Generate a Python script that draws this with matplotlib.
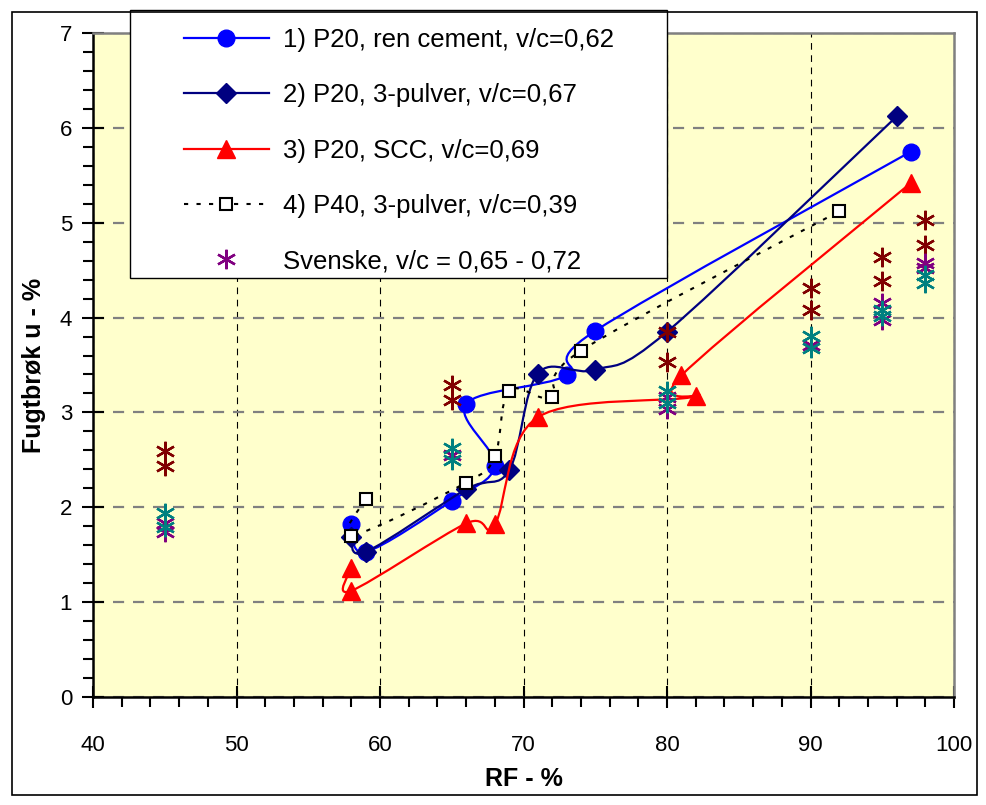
import numpy as np
import matplotlib
matplotlib.use('Agg')
import matplotlib.pyplot as plt
from matplotlib.path import Path
from matplotlib.patches import PathPatch, Rectangle
from matplotlib.lines import Line2D
from matplotlib.ticker import MultipleLocator

plt.rcParams['font.family'] = ['Liberation Sans', 'DejaVu Sans']

# --- data (in drawing order) ---
s1_rf = [58, 59, 65, 68, 66, 73, 75, 97]
s1_u = [1.82, 1.53, 2.07, 2.44, 3.09, 3.39, 3.86, 5.75]

s2_rf = [58, 59, 66, 69, 71, 75, 80, 96]
s2_u = [1.69, 1.53, 2.19, 2.39, 3.41, 3.45, 3.85, 6.12]

s3_rf = [58, 58, 66, 68, 71, 82, 81, 97]
s3_u = [1.36, 1.12, 1.83, 1.82, 2.95, 3.17, 3.39, 5.42]

s4_rf = [59, 58, 66, 68, 69, 72, 74, 92]
s4_u = [2.09, 1.70, 2.26, 2.54, 3.23, 3.16, 3.65, 5.12]

sv_red_rf = [45, 45, 65, 65, 80, 80, 90, 90, 95, 95, 98, 98]
sv_red_u = [2.59, 2.43, 3.29, 3.13, 3.85, 3.53, 4.31, 4.08, 4.64, 4.39, 5.03, 4.76]
sv_purple_rf = [45, 45, 65, 80, 80, 90, 95, 95, 98, 98]
sv_purple_u = [1.83, 1.74, 2.55, 3.16, 3.04, 3.71, 4.15, 3.97, 4.58, 4.52]
sv_teal_rf = [45, 45, 65, 65, 80, 80, 90, 90, 95, 95, 98, 98]
sv_teal_u = [1.94, 1.79, 2.62, 2.50, 3.23, 3.10, 3.81, 3.68, 4.08, 4.02, 4.45, 4.36]

labels = ['1) P20, ren cement, v/c=0,62',
          '2) P20, 3-pulver, v/c=0,67',
          '3) P20, SCC, v/c=0,69',
          '4) P40, 3-pulver, v/c=0,39',
          'Svenske, v/c = 0,65 - 0,72']


def smooth_path(xs, ys):
    # Excel-style smoothed line (Catmull-Rom as cubic Bezier segments)
    p = np.column_stack([xs, ys]).astype(float)
    n = len(p)
    verts = [p[0]]
    codes = [Path.MOVETO]
    for i in range(n - 1):
        p0 = p[i - 1] if i > 0 else p[i]
        p1 = p[i]
        p2 = p[i + 1]
        p3 = p[i + 2] if i + 2 < n else p[i + 1]
        verts += [p1 + (p2 - p0) / 6, p2 - (p3 - p1) / 6, p2]
        codes += [Path.CURVE4] * 3
    return Path(verts, codes)


fig = plt.figure(figsize=(9.86, 8.05), dpi=100)
ax = fig.add_axes([93 / 986, 108 / 805, 861 / 986, 664 / 805])
ax.set_facecolor('#FFFFCC')
ax.set_xlim(40, 100)
ax.set_ylim(0, 7)

ax.xaxis.set_major_locator(MultipleLocator(10))
ax.xaxis.set_minor_locator(MultipleLocator(2))
ax.yaxis.set_major_locator(MultipleLocator(1))
ax.yaxis.set_minor_locator(MultipleLocator(0.2))
ax.tick_params(which='major', direction='inout', length=16, width=1.5,
               labelsize=16, pad=7)
ax.tick_params(axis='x', which='major', pad=19)
ax.tick_params(which='minor', direction='out', length=7, width=1.5)

ax.yaxis.grid(True, color='#808080', linestyle=(0, (5, 4)), linewidth=1.6)
ax.xaxis.grid(True, color='black', linestyle=(0, (6, 5)), linewidth=0.8)
ax.set_axisbelow(True)

for side in ['left', 'bottom']:
    ax.spines[side].set_color('black')
    ax.spines[side].set_linewidth(1.8)
for side in ['top', 'right']:
    ax.spines[side].set_color('#808080')
    ax.spines[side].set_linewidth(1.8)

# series 1
ax.add_patch(PathPatch(smooth_path(s1_rf, s1_u), fill=False, edgecolor='#0000FF', lw=1.6, zorder=3))
ax.plot(s1_rf, s1_u, ls='none', marker='o', ms=12, color='#0000FF', zorder=3)
# series 2
ax.add_patch(PathPatch(smooth_path(s2_rf, s2_u), fill=False, edgecolor='#000080', lw=1.6, zorder=4))
ax.plot(s2_rf, s2_u, ls='none', marker='D', ms=10.5, color='#000080', zorder=4)
# series 3
ax.add_patch(PathPatch(smooth_path(s3_rf, s3_u), fill=False, edgecolor='#FF0000', lw=1.6, zorder=5))
ax.plot(s3_rf, s3_u, ls='none', marker='^', ms=13, color='#FF0000', zorder=5)
# series 4
ax.add_patch(PathPatch(smooth_path(s4_rf, s4_u), fill=False, edgecolor='black', lw=1.5,
                       linestyle=(0, (2, 4)), zorder=6))
ax.plot(s4_rf, s4_u, ls='none', marker='s', ms=8, mfc='white', mec='black', mew=1.5, zorder=6)
# svenske
star = (6, 2, 0)
ax.plot(sv_red_rf, sv_red_u, ls='none', marker=star, ms=14, mew=1.7, color='#800000', zorder=7)
ax.plot(sv_purple_rf, sv_purple_u, ls='none', marker=star, ms=14, mew=1.7, color='#800080', zorder=7)
ax.plot(sv_teal_rf, sv_teal_u, ls='none', marker=star, ms=14, mew=1.7, color='#008080', zorder=7)

ax.set_xlabel('RF - %', fontsize=18, fontweight='bold', labelpad=8)
ax.set_ylabel('Fugtbrøk u - %', fontsize=18, fontweight='bold', labelpad=10)

# legend box + legend
fig.add_artist(Rectangle((130 / 986, 1 - 278 / 805), 537 / 986, 268 / 805,
                         transform=fig.transFigure, facecolor='white',
                         edgecolor='black', lw=1.0, zorder=5))
handles = [
    Line2D([], [], color='#0000FF', lw=1.6, marker='o', ms=12),
    Line2D([], [], color='#000080', lw=1.6, marker='D', ms=10.5),
    Line2D([], [], color='#FF0000', lw=1.6, marker='^', ms=13),
    Line2D([], [], color='black', lw=1.5, ls=(0, (2, 4)), marker='s', ms=8,
           mfc='white', mec='black', mew=1.5),
    Line2D([], [], ls='none', marker=star, ms=14, mew=1.7, color='#800080'),
]
leg = fig.legend(handles, labels, loc='upper left', bbox_to_anchor=(184 / 986, 1 - 28 / 805),
                 frameon=False, fontsize=18.5, handlelength=3.3, handletextpad=0.55,
                 labelspacing=1.22, borderpad=0, borderaxespad=0)
leg.set_zorder(6)

# outer frame of the chart
fig.add_artist(Rectangle((12 / 986, 10 / 805), 965 / 986, 783 / 805,
                         transform=fig.transFigure, fill=False,
                         edgecolor='black', lw=1.2, zorder=10))

fig.savefig('out.png', dpi=100)
